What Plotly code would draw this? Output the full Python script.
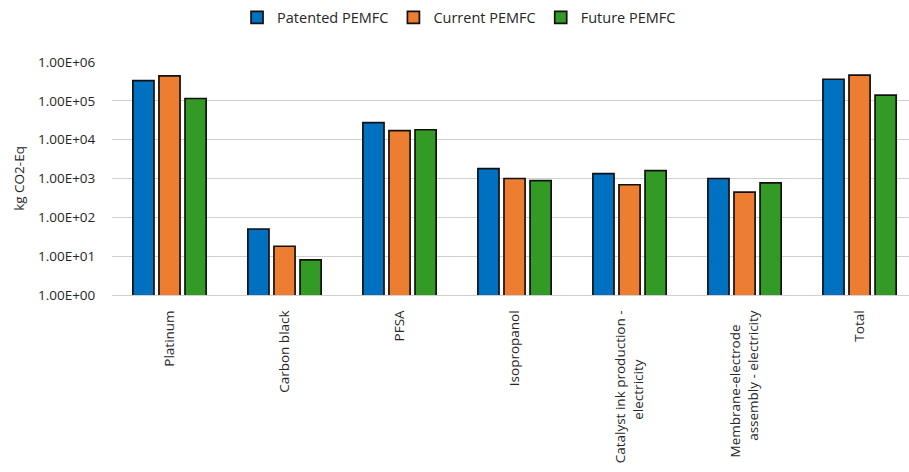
import plotly.graph_objects as go

# Life-cycle GHG emissions by PEMFC component
categories = [
    "Platinum",
    "Carbon black",
    "PFSA",
    "Isopropanol",
    "Catalyst ink production -<br>electricity",
    "Membrane-electrode<br>assembly - electricity",
    "Total",
]
patented = [3.3e5, 50, 2.75e4, 1.8e3, 1.34e3, 1.0e3, 3.6e5]
current = [4.4e5, 18, 1.7e4, 1.0e3, 690, 445, 4.6e5]
future = [1.15e5, 8, 1.8e4, 880, 1.6e3, 770, 1.4e5]

series_names = ["Patented PEMFC", "Current PEMFC", "Future PEMFC"]
series_colors = ["#0070C0", "#ED7D31", "#339A26"]

tick_vals = [1, 10, 100, 1e3, 1e4, 1e5, 1e6]
tick_text = ["1.00E+00", "1.00E+01", "1.00E+02", "1.00E+03", "1.00E+04", "1.00E+05", "1.00E+06"]

font_family = "Open Sans, Liberation Sans, sans-serif"
text_color = "#262626"


def center_lines(label, char_px=7.2, space_px=3.5):
    """Pad shorter lines of a multi-line rotated label so the lines look centred."""
    lines = label.split("<br>")
    if len(lines) == 1:
        return label
    widths = [len(l) * char_px for l in lines]
    longest = max(widths)
    out = []
    for l, w in zip(lines, widths):
        pad = int(round((longest - w) / 2 / space_px))
        out.append(l + "\u00a0" * pad)
    return "<br>".join(out)


tick_labels = [center_lines(c) for c in categories]

fig = go.Figure()
for name, vals, col in zip(series_names, [patented, current, future], series_colors):
    fig.add_trace(go.Bar(
        name=name,
        x=list(range(len(categories))),
        y=vals,
        marker=dict(color=col, line=dict(color="#111111", width=1.7)),
    ))

fig.update_layout(
    width=909,
    height=472,
    margin=dict(l=112, r=0, t=62, b=177),
    paper_bgcolor="white",
    plot_bgcolor="white",
    barmode="group",
    bargap=0.32,
    bargroupgap=0.19,
    font=dict(family=font_family, size=13, color=text_color),
    legend=dict(
        orientation="h",
        xref="container",
        yref="container",
        x=0.505,
        xanchor="center",
        y=0.997,
        yanchor="top",
        font=dict(size=14.5, color=text_color),
        traceorder="normal",
        itemwidth=30,
    ),
    xaxis=dict(
        tickmode="array",
        tickvals=list(range(len(categories))),
        ticktext=tick_labels,
        tickangle=-90,
        range=[-0.5, 6.43],
        showgrid=False,
        showline=True,
        linecolor="#D0D0D0",
        linewidth=1,
        ticks="outside",
        ticklen=9,
        tickcolor="white",
        tickfont=dict(size=13.5, color=text_color),
    ),
    yaxis=dict(
        type="log",
        range=[0, 6],
        tickmode="array",
        tickvals=tick_vals,
        ticktext=tick_text,
        showgrid=True,
        gridcolor="#D0D0D0",
        gridwidth=1,
        zeroline=False,
        showline=False,
        ticks="outside",
        ticklen=13,
        tickcolor="white",
        tickfont=dict(size=13.5, color=text_color),
        title=dict(text="kg CO2-Eq", font=dict(size=13.5, color=text_color), standoff=10),
    ),
)

fig.write_html("out.html")
